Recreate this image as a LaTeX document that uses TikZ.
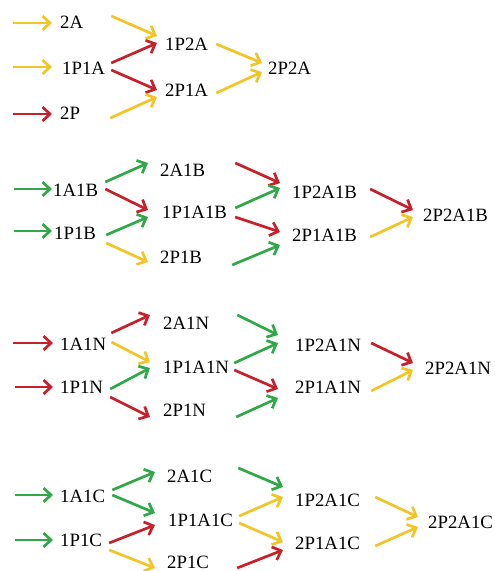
\documentclass[tikz,border=0pt]{standalone}
\usepackage{fontspec}
\setmainfont{Liberation Serif}
\usetikzlibrary{arrows.meta,calc}
\definecolor{cy}{RGB}{242,196,38}
\definecolor{cr}{RGB}{200,32,42}
\definecolor{cg}{RGB}{48,168,72}
\newcommand\arw[5]{\draw[#1] ($(#2)+(#3)$) -- ($(#4)+(#5)$);}
\newcommand\inarw[4]{\coordinate (#2) at (#3); \draw[#1] (#2) -- ($(#4)$);}
\begin{document}
\begin{tikzpicture}[x=1pt,y=-1pt,
  lbl/.style={anchor=west,inner sep=0pt,font=\fontsize{18.8}{20}\selectfont},
  con/.style={line width=2.7pt,-{Straight Barb[length=7.5pt,width=14pt]}},
  ya/.style={con,cy}, ra/.style={con,cr}, ga/.style={con,cg}]
\useasboundingbox (0,0) rectangle (495,571);
% section 1
\node[lbl] (A) at (60,22) {2A};
\node[lbl] (B) at (62,68) {1P1A};
\node[lbl] (C) at (60,113) {2P};
\node[lbl] (D) at (165,44) {1P2A};
\node[lbl] (E) at (165,90) {2P1A};
\node[lbl] (F) at (268,68) {2P2A};
\inarw{ya}{s1}{13,23}{A.west)+(-8,1}
\inarw{ya}{s2}{13,67}{B.west)+(-10,-1}
\inarw{ra}{s3}{13,114}{C.west)+(-8,1}
\arw{ya}{A.east}{28,-6}{D.west}{-8,-8}
\arw{ra}{B.east}{6,-5}{D.west}{-8,-1}
\arw{ra}{B.east}{6,2}{E.west}{-8,0}
\arw{ya}{C.east}{30,5}{E.west}{-8,7}
\arw{ya}{D.east}{8,0}{F.west}{-6,-5}
\arw{ya}{E.east}{8,3}{F.west}{-6,4}
% section 2
\node[lbl] (G) at (53,190) {1A1B};
\node[lbl] (H) at (54,233) {1P1B};
\node[lbl] (I) at (160,170) {2A1B};
\node[lbl] (J) at (162,212) {1P1A1B};
\node[lbl] (K) at (160,257) {2P1B};
\node[lbl] (L) at (292,192) {1P2A1B};
\node[lbl] (M) at (292,235) {2P1A1B};
\node[lbl] (N) at (423,215) {2P2A1B};
\inarw{ga}{s4}{14,189}{G.west)+(-1,-1}
\inarw{ga}{s5}{14,231}{H.west)+(-2,-2}
\arw{ga}{G.east}{7,-8}{I.west}{-12,-7}
\arw{ra}{G.east}{7,-1}{J.west}{-14,-2}
\arw{ga}{H.east}{10,2}{J.west}{-14,5}
\arw{ya}{H.east}{10,10}{K.west}{-12,5}
\arw{ra}{I.east}{30,-7}{L.west}{-12,-9}
\arw{ga}{J.east}{8,-4}{L.west}{-12,-4}
\arw{ra}{J.east}{8,5}{M.west}{-12,-3}
\arw{ga}{K.east}{30,8}{M.west}{-12,10}
\arw{ra}{L.east}{13,-3}{N.west}{-10,-5}
\arw{ya}{M.east}{13,2}{N.west}{-10,2}
% section 3
\node[lbl] (O) at (60,344) {1A1N};
\node[lbl] (P) at (60,387) {1P1N};
\node[lbl] (Q) at (163,323) {2A1N};
\node[lbl] (R) at (163,367) {1P1A1N};
\node[lbl] (S) at (163,410) {2P1N};
\node[lbl] (T) at (295,345) {1P2A1N};
\node[lbl] (U) at (295,387) {2P1A1N};
\node[lbl] (V) at (425,368) {2P2A1N};
\inarw{ra}{s6}{13,343}{O.west)+(-7,-1}
\inarw{ra}{s7}{15,387}{P.west)+(-7,0}
\arw{ra}{O.east}{5,-11}{Q.west}{-13,-8}
\arw{ya}{O.east}{5,-2}{R.west}{-13,-5}
\arw{ga}{P.east}{7,2}{R.west}{-13,1}
\arw{ra}{P.east}{7,10}{S.west}{-13,7}
\arw{ga}{Q.east}{28,-8}{T.west}{-17,-10}
\arw{ga}{R.east}{5,-4}{T.west}{-17,-2}
\arw{ra}{R.east}{5,3}{U.west}{-17,2}
\arw{ga}{S.east}{30,7}{U.west}{-17,11}
\arw{ra}{T.east}{10,-2}{V.west}{-12,-5}
\arw{ya}{U.east}{10,4}{V.west}{-12,2}
% section 4
\node[lbl] (W) at (60,496) {1A1C};
\node[lbl] (X) at (60,540) {1P1C};
\node[lbl] (Y) at (167,476) {2A1C};
\node[lbl] (Z) at (168,520) {1P1A1C};
\node[lbl] (AA) at (167,562) {2P1C};
\node[lbl] (AB) at (295,500) {1P2A1C};
\node[lbl] (AC) at (295,543) {2P1A1C};
\node[lbl] (AD) at (428,522) {2P2A1C};
\inarw{ga}{s8}{15,495}{W.west)+(-7,-1}
\inarw{ga}{s9}{15,540}{X.west)+(-7,0}
\arw{ga}{W.east}{7,-6}{Y.west}{-12,-4}
\arw{ga}{W.east}{7,-1}{Z.west}{-13,-7}
\arw{ra}{X.east}{7,3}{Z.west}{-13,5}
\arw{ya}{X.east}{7,10}{AA.west}{-12,6}
\arw{ga}{Y.east}{26,-8}{AB.west}{-12,-13}
\arw{ya}{Z.east}{6,-4}{AB.west}{-12,-3}
\arw{ya}{Z.east}{6,3}{AC.west}{-12,-1}
\arw{ra}{AA.east}{28,6}{AC.west}{-12,7}
\arw{ya}{AB.east}{15,-3}{AD.west}{-10,-5}
\arw{ya}{AC.east}{15,3}{AD.west}{-10,5}
\end{tikzpicture}
\end{document}
